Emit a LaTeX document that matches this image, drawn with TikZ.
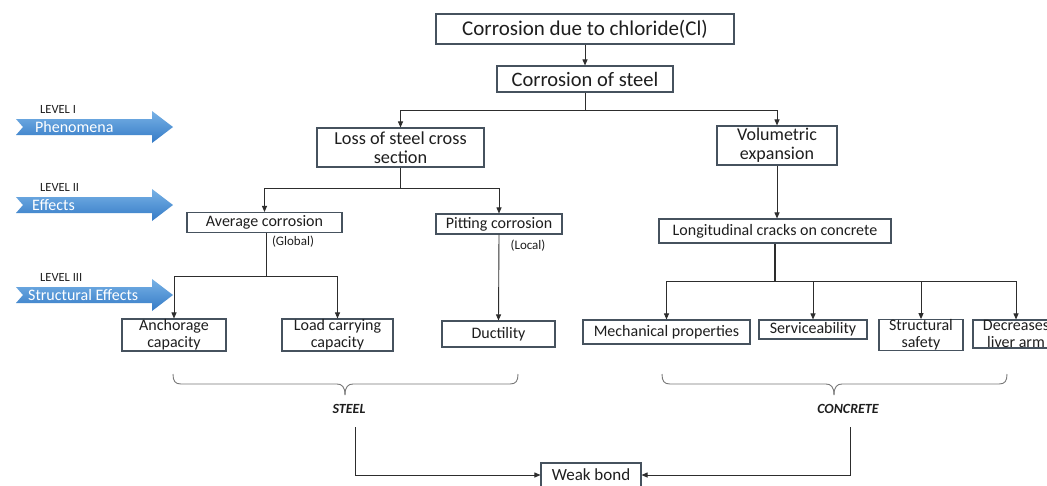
\documentclass[tikz,border=0pt]{standalone}
\usepackage{fontspec}
\setmainfont{Carlito}
\usetikzlibrary{arrows.meta}
\definecolor{boxc}{RGB}{70,82,94}
\definecolor{linec}{RGB}{45,45,45}
\definecolor{lvtop}{RGB}{120,178,230}
\definecolor{lvbot}{RGB}{52,122,198}
\definecolor{txt}{RGB}{30,30,30}
\definecolor{brcc}{RGB}{120,120,120}
\begin{document}
\begin{tikzpicture}[x=1pt,y=-1pt,
 box/.style={draw=boxc,line width=1.1pt,inner sep=0pt,align=center,text=txt,font=\fontsize{16}{17}\selectfont},
 arr/.style={draw=linec,line width=0.9pt,-{Triangle[length=6pt,width=5pt]}},
 ln/.style={draw=linec,line width=0.9pt},
 brc/.style={draw=brcc,line width=0.9pt},
 lvl/.style={font=\fontsize{12.5}{13}\selectfont,text=txt,anchor=west,inner sep=0pt},
 lvtext/.style={font=\fontsize{16}{16}\selectfont,text=white,anchor=west,inner sep=0pt},
 small/.style={font=\fontsize{13}{13}\selectfont,text=txt,inner sep=0pt},
 matl/.style={font=\fontsize{14}{14}\selectfont\bfseries\itshape,text=txt,inner sep=0pt},
]
\useasboundingbox (0,0) rectangle (1047,485);
\clip (0,0) rectangle (1047,485);
\fill[white] (0,0) rectangle (1047,485);

% level arrows
\foreach \c/\lv/\tx/\px/\nm in {127/LEVEL I/Phenomena/35/a, 205/LEVEL II/Effects/32/b, 295/LEVEL III/Structural Effects/28/c}{
  \shade[top color=lvtop,bottom color=lvbot]
    (16,\c-8) -- (152,\c-8) -- (152,\c-16) -- (173,\c) -- (152,\c+16) -- (152,\c+8) -- (16,\c+8) -- (23,\c) -- cycle;
  \node[lvl] (lv\nm) at (40,\c-18) {\lv};
  \node[lvtext] (lt\nm) at (\px,\c) {\tx};
}

% boxes
\node[box,minimum width=298pt,minimum height=30pt,font=\fontsize{21}{22}\selectfont] (top) at (585,29) {Corrosion due to chloride(Cl)};
\node[box,minimum width=176pt,minimum height=26pt,font=\fontsize{20.5}{21}\selectfont] (cs) at (585,79) {Corrosion of steel};
\node[box,minimum width=167pt,minimum height=39pt,font=\fontsize{18.3}{19}\selectfont] (loss) at (400.5,147.5) {Loss of steel cross\\section};
\node[box,minimum width=120pt,minimum height=39pt,font=\fontsize{18}{19}\selectfont] (vol) at (777,145.5) {Volumetric\\expansion};
\node[box,minimum width=155pt,minimum height=20pt] (avg) at (264.5,222.5) {Average corrosion};
\node[box,minimum width=126pt,minimum height=20pt] (pit) at (499,224) {Pitting corrosion};
\node[box,minimum width=232pt,minimum height=24pt] (long) at (775,231) {Longitudinal cracks on concrete};
\node[box,minimum width=104pt,minimum height=32pt] (anch) at (174,335) {Anchorage\\capacity};
\node[box,minimum width=111pt,minimum height=32pt] (load) at (337.5,335) {Load carrying\\capacity};
\node[box,minimum width=113pt,minimum height=26pt] (duct) at (498.5,334) {Ductility};
\node[box,minimum width=167pt,minimum height=24pt] (mech) at (666.5,332) {Mechanical properties};
\node[box,minimum width=108pt,minimum height=19pt] (serv) at (813,329.5) {Serviceability};
\node[box,minimum width=84pt,minimum height=30pt] (safe) at (921,335) {Structural\\safety};
\node[box,minimum width=86pt,minimum height=28pt] (dec) at (1016,334) {Decreases\\liver arm};
\node[box,minimum width=100pt,minimum height=24pt,font=\fontsize{17}{18}\selectfont] (weak) at (591,475) {Weak bond};

\node[small] (glob) at (293,242) {(Global)};
\node[small] (loc) at (528,246) {(Local)};
\node[matl] (steel) at (349,409) {STEEL};
\node[matl] (conc) at (848,409) {CONCRETE};

% connectors
\draw[arr] (top.south) -- (cs.north);
\draw[ln] (cs.south) -- ++(0,18) coordinate (j1);
\draw[arr] (j1) -| (loss.north);
\draw[arr] (j1) -| (vol.north);
\draw[ln] (loss.south) -- ++(0,21) coordinate (j2);
\draw[arr] (j2) -| (avg.north);
\draw[arr] (j2) -| (pit.north);
\draw[ln] (avg.south) ++(1.5,0) coordinate (a0) -- ++(0,43.5) coordinate (j3);
\draw[arr] (j3) -| (anch.north);
\draw[arr] (j3) -| (load.north);
\draw[arr] (pit.south) -- (duct.north);
\draw[arr] (vol.south) -- (vol.south |- long.north);
\draw[ln,line width=1.3pt] (long.south) -- ++(0,38) coordinate (j4);
\draw[arr] (j4) -| (mech.north);
\draw[arr] (j4) -| (serv.north);
\draw[arr] (j4) -| (safe.north);
\draw[arr] (j4) -| (dec.north);

\coordinate (s0) at (355,427);
\coordinate (c0) at (850,427);
\draw[arr] (s0) |- (weak.west);
\draw[arr] (c0) |- (weak.east);

% braces
\draw[brc] (173,374) .. controls (173,381) and (175,384) .. (181,384) -- (337,384) .. controls (342,384) and (345,387) .. (345,395);
\draw[brc] (518,374) .. controls (518,381) and (516,384) .. (510,384) -- (353,384) .. controls (348,384) and (345,387) .. (345,395);
\draw[brc] (662,374) .. controls (662,381) and (664,384) .. (670,384) -- (826,384) .. controls (831,384) and (834,387) .. (834,395);
\draw[brc] (1007,374) .. controls (1007,381) and (1005,384) .. (999,384) -- (842,384) .. controls (837,384) and (834,387) .. (834,395);
\end{tikzpicture}
\end{document}
